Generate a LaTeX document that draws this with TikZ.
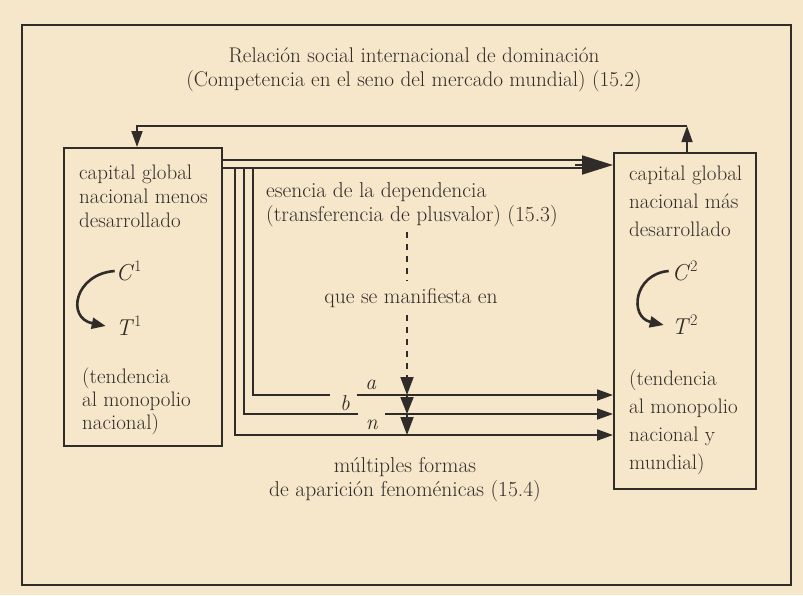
\documentclass[tikz,border=0pt]{standalone}
\usepackage{fontspec}
\usetikzlibrary{arrows.meta}
\usetikzlibrary{positioning}
\definecolor{paper}{HTML}{F6E6CA}
\definecolor{ink}{HTML}{302C29}
\tikzset{box/.style = {draw = ink, line width = 2pt, inner sep = 0}}
\tikzset{txt/.style = {align = left, inner sep = 0, anchor = west}}
\tikzset{line/.style = {draw = ink, line width = 1.8pt}}
\tikzset{flecha/.style = {line, -{Triangle[length = 16pt, width = 11pt]}}}
\tikzset{giro/.style = {draw = ink, line width = 2.6pt, -{Triangle[length = 14pt, width = 11pt]}}}
\tikzset{discont/.style = {line, dash pattern = on 6pt off 6pt}}
\newcommand{\lsk}[2]{\fontsize{#1}{#2}\selectfont}
\newcommand{\ct}[2]{\textit{#1}\textsuperscript{#2}}

\begin{document}
\begin{tikzpicture}[x = 1pt, y = -1pt, font = \lsk{21.5}{24}, text = ink]
      \fill[paper] (0, 0) rectangle (803, 595);
      \useasboundingbox (0, 0) rectangle (803, 595);
      \draw[line, line width = 2pt] (22, 25) rectangle (791, 585);
      \node [align = center, inner sep = 0, font = \lsk{21.2}{24}] (titulo) at (414, 70)
        {Relación social internacional de dominación\\(Competencia en el seno del mercado mundial) (15.2)};
      \node [box, minimum width = 158, minimum height = 298] (menos) at (143, 297) {};
      \node [box, minimum width = 142, minimum height = 336] (mas) at (685, 321) {};
      \node [txt, font = \lsk{21}{24}] (menos-a) at (79, 196) {capital global\\nacional menos\\desarrollado};
      \node [txt, font = \lsk{21}{23}] (menos-b) at (82, 401) {(tendencia\\al monopolio\\nacional)};
      \node [txt, font = \lsk{21}{28}] (mas-a) at (629, 201) {capital global\\nacional más\\desarrollado};
      \node [txt, font = \lsk{21}{28}] (mas-b) at (629, 422) {(tendencia\\al monopolio\\nacional y\\mundial)};
      \node [inner sep = 0, font = \lsk{23}{24}] (c1) at (129, 271) {\ct{C}{1}};
      \node [inner sep = 0, font = \lsk{23}{24}] (t1) at (129, 326) {\ct{T}{1}};
      \node [inner sep = 0, font = \lsk{23}{24}] (c2) at (685, 271) {\ct{C}{2}};
      \node [inner sep = 0, font = \lsk{23}{24}] (t2) at (685, 325) {\ct{T}{2}};
      \draw[giro] ([xshift = -1pt]c1.west) .. controls +(-40, 3) and +(-40, -8) .. ([xshift = -10pt]t1.west);
      \draw[giro] ([xshift = -3pt]c2.west) .. controls +(-35, 3) and +(-35, -8) .. ([xshift = -8pt]t2.west);
      \coordinate (vuelta-d) at (687, 126);
      \coordinate (vuelta-i) at (137, 126);
      \draw[flecha] (vuelta-d |- mas.north) -- (vuelta-d);
      \draw[flecha] (vuelta-d) -- (vuelta-i) -- (vuelta-i |- menos.north);
      \path (menos.north east) ++(0, 13) coordinate (d1) ++(0, 8) coordinate (d2);
      \draw[line, shorten >= 26pt] (d1) -- (d1 -| mas.west);
      \draw[line, shorten >= 26pt] (d2) -- (d2 -| mas.west);
      \coordinate (punta) at (575, 165);
      \draw[line, -{Triangle[length = 31pt, width = 19pt]}] (punta) -- (punta -| mas.west);
      \node [txt] (esencia) at (266, 205)
        {esencia de la dependencia\\(transferencia de plusvalor) (15.3)};
      \node [inner sep = 7pt] (manif) at (411, 298) {que se manifiesta en};
      \node [align = center, inner sep = 0] (formas) at (405, 480)
        {múltiples formas\\de aparición fenoménicas (15.4)};
      \coordinate (ra) at (253, 169);
      \coordinate (rb) at (244, 169);
      \coordinate (rn) at (235, 169);
      \coordinate (ka) at (330, 395);
      \coordinate (ga) at (357, 395);
      \coordinate (kb) at (358, 414);
      \coordinate (gb) at (385, 414);
      \coordinate (gn) at (407, 435);
      \draw[line] (ra) |- (ka);
      \draw[line] (rb) |- (kb);
      \draw[flecha] (ga) -- (ga -| mas.west);
      \draw[flecha] (gb) -- (gb -| mas.west);
      \draw[flecha] (rn) |- (gn -| mas.west);
      \node [inner sep = 0] (la) at (371, 385) {\textit{a}};
      \node [inner sep = 0] (lb) at (345, 403) {\textit{b}};
      \node [inner sep = 0] (ln) at (372, 425) {\textit{n}};
      \coordinate (ds) at (407, 232);
      \draw[discont] (ds) -- (ds |- manif.north);
      \draw[discont, -{Triangle[length = 18pt, width = 13pt]}] (ds |- manif.south) -- (ds |- ka);
      \draw[line, -{Triangle[length = 17pt, width = 13pt]}] (ds |- ka) -- (ds |- gb);
      \draw[line, -{Triangle[length = 18pt, width = 13pt]}] (ds |- gb) -- (gn);
    \end{tikzpicture}
\end{document}
